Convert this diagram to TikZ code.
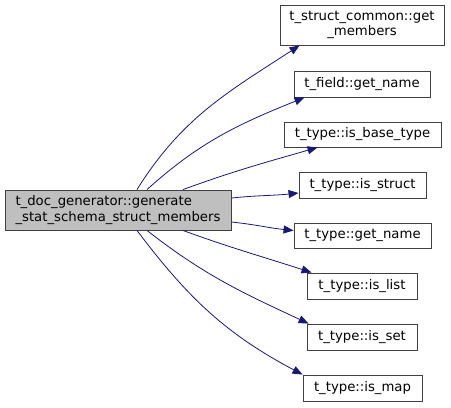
\documentclass[tikz,border=0pt]{standalone}
\usepackage{fontspec}
\setmainfont{DejaVu Sans}
\usetikzlibrary{arrows.meta}
\definecolor{edgeblue}{HTML}{191970}
\tikzset{
  fn/.style      ={draw=black!75, fill=white, line width=0.9pt, inner sep=0pt,
                   minimum height=26bp, font=\fontsize{13.3}{15.5}\selectfont},
  mainfn/.style  ={fn, fill=black!25, minimum height=40bp, align=left},
  call/.style    ={-{Triangle[length=10bp,width=8bp]}, line width=0.8pt, edgeblue},
}
\begin{document}
\begin{tikzpicture}[x=1bp,y=-1bp]
  \useasboundingbox (0,0) rectangle (451,407);
  % caller
  \node[mainfn, minimum width=226bp] (gen) at (118,210)
    {t\_doc\_generator::generate\\\_stat\_schema\_struct\_members};
  % callees
  \node[fn, minimum width=164bp, minimum height=40bp, align=center] (getmem) at (362,25)
    {t\_struct\_common::get\\\_members};
  \node[fn, minimum width=136bp] (fldname) at (362,84) {t\_field::get\_name};
  \node[fn, minimum width=157bp, minimum height=25bp] (isbase) at (362.5,134.5) {t\_type::is\_base\_type};
  \node[fn, minimum width=127bp] (isstruct) at (362.5,185) {t\_type::is\_struct};
  \node[fn, minimum width=137bp, minimum height=25bp] (tyname) at (362.5,235.5) {t\_type::get\_name};
  \node[fn, minimum width=110bp] (islist) at (362,286) {t\_type::is\_list};
  \node[fn, minimum width=110bp] (isset) at (362,337) {t\_type::is\_set};
  \node[fn, minimum width=119bp] (ismap) at (362.5,388) {t\_type::is\_map};
  % calls
  \draw[call] ([xshift=19bp]gen.north) to[out=58,in=213] ([xshift=20bp]getmem.south west);
  \draw[call] ([xshift=29bp]gen.north) to[out=42,in=202] ([xshift=11bp]fldname.south west);
  \draw[call] ([xshift=65bp]gen.north) to[out=20,in=196] ([xshift=34bp]isbase.south west);
  \draw[call] ([yshift=12bp]gen.east) to[out=6,in=186] ([yshift=-8bp]isstruct.west);
  \draw[call] ([yshift=-12bp]gen.east) to[out=-6,in=174] ([yshift=5bp]tyname.west);
  \draw[call] ([xshift=65bp]gen.south) to[out=-20,in=162] ([xshift=5bp]islist.north west);
  \draw[call] ([xshift=29bp]gen.south) to[out=-38,in=155] ([xshift=2bp]isset.north west);
  \draw[call] ([xshift=19bp]gen.south) to[out=-53,in=152] (ismap.north west);
\end{tikzpicture}
\end{document}
